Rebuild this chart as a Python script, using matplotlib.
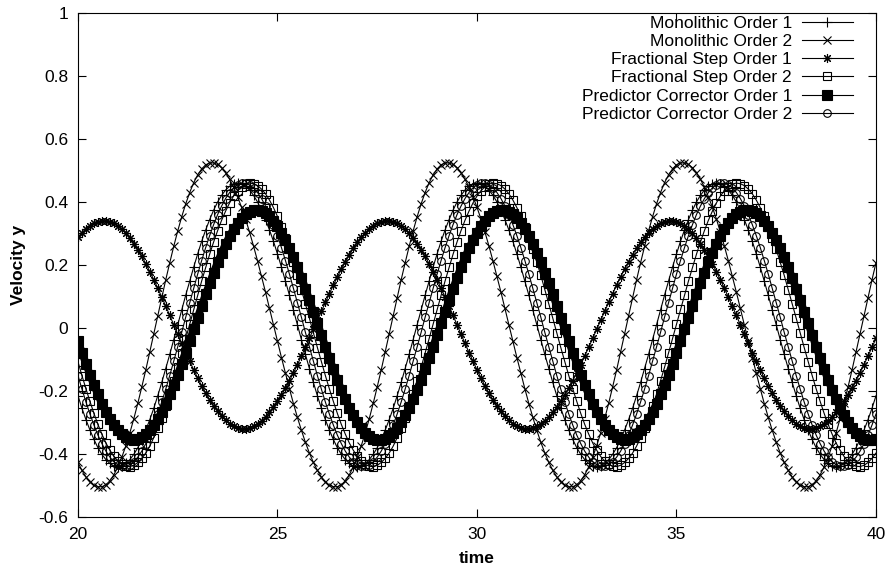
#!/usr/bin/env python3
"""Velocity y against time for six time-integration schemes (gnuplot-style linespoints)."""

import matplotlib

matplotlib.use("Agg")
import matplotlib.pyplot as plt
import numpy as np

plt.rcParams["font.family"] = ["Liberation Sans", "DejaVu Sans"]
plt.rcParams["axes.unicode_minus"] = False

T_START, T_END = 20.0, 40.0  # samples are every 0.1 time units
FONT_SIZE = 12.5

# values, t = 20.0, 20.1, ..., 40.0
monolithic_1 = [
    -0.215, -0.255, -0.291, -0.324, -0.354, -0.380, -0.401, -0.418, -0.430, -0.438,
    -0.440, -0.438, -0.430, -0.418, -0.401, -0.380, -0.354, -0.324, -0.291, -0.255,
    -0.215, -0.173, -0.129, -0.084, -0.037, 0.010, 0.057, 0.104, 0.149, 0.193,
    0.235, 0.275, 0.311, 0.344, 0.374, 0.400, 0.421, 0.438, 0.450, 0.458,
    0.460, 0.458, 0.450, 0.438, 0.421, 0.400, 0.374, 0.344, 0.311, 0.275,
    0.235, 0.193, 0.149, 0.104, 0.057, 0.010, -0.037, -0.084, -0.129, -0.173,
    -0.215, -0.255, -0.291, -0.324, -0.354, -0.380, -0.401, -0.418, -0.430, -0.438,
    -0.440, -0.438, -0.430, -0.418, -0.401, -0.380, -0.354, -0.324, -0.291, -0.255,
    -0.215, -0.173, -0.129, -0.084, -0.037, 0.010, 0.057, 0.104, 0.149, 0.193,
    0.235, 0.275, 0.311, 0.344, 0.374, 0.400, 0.421, 0.438, 0.450, 0.458,
    0.460, 0.458, 0.450, 0.438, 0.421, 0.400, 0.374, 0.344, 0.311, 0.275,
    0.235, 0.193, 0.149, 0.104, 0.057, 0.010, -0.037, -0.084, -0.129, -0.173,
    -0.215, -0.255, -0.291, -0.324, -0.354, -0.380, -0.401, -0.418, -0.430, -0.438,
    -0.440, -0.438, -0.430, -0.418, -0.401, -0.380, -0.354, -0.324, -0.291, -0.255,
    -0.215, -0.173, -0.129, -0.084, -0.037, 0.010, 0.057, 0.104, 0.149, 0.193,
    0.235, 0.275, 0.311, 0.344, 0.374, 0.400, 0.421, 0.438, 0.450, 0.458,
    0.460, 0.458, 0.450, 0.438, 0.421, 0.400, 0.374, 0.344, 0.311, 0.275,
    0.235, 0.193, 0.149, 0.104, 0.057, 0.010, -0.037, -0.084, -0.129, -0.173,
    -0.215, -0.255, -0.291, -0.324, -0.354, -0.380, -0.401, -0.418, -0.430, -0.438,
    -0.440, -0.438, -0.430, -0.418, -0.401, -0.380, -0.354, -0.324, -0.291, -0.255,
    -0.215,
]

monolithic_2 = [
    -0.427, -0.452, -0.473, -0.489, -0.499, -0.504,
    -0.504, -0.498, -0.485, -0.466, -0.441, -0.410, -0.374, -0.333, -0.288, -0.239,
    -0.187, -0.133, -0.076, -0.019, 0.039, 0.096, 0.153, 0.207, 0.259, 0.308,
    0.353, 0.394, 0.430, 0.461, 0.486, 0.505, 0.518, 0.524,
    0.524, 0.519, 0.509, 0.493, 0.472, 0.447, 0.417, 0.383, 0.346, 0.304,
    0.260, 0.213, 0.164, 0.114, 0.062, 0.010, -0.042, -0.094, -0.144, -0.193,
    -0.240, -0.284, -0.325, -0.363, -0.397, -0.427, -0.452, -0.473, -0.489, -0.499,
    -0.504,
    -0.504, -0.498, -0.485, -0.466, -0.441, -0.410, -0.374, -0.333, -0.288, -0.239,
    -0.187, -0.133, -0.076, -0.019, 0.039, 0.096, 0.153, 0.207, 0.259, 0.308,
    0.353, 0.394, 0.430, 0.461, 0.486, 0.505, 0.518, 0.524,
    0.524, 0.519, 0.509, 0.493, 0.472, 0.447, 0.417, 0.383, 0.346, 0.304,
    0.260, 0.213, 0.164, 0.114, 0.062, 0.010, -0.042, -0.094, -0.144, -0.193,
    -0.240, -0.284, -0.325, -0.363, -0.397, -0.427, -0.452, -0.473, -0.489, -0.499,
    -0.504,
    -0.504, -0.498, -0.485, -0.466, -0.441, -0.410, -0.374, -0.333, -0.288, -0.239,
    -0.187, -0.133, -0.076, -0.019, 0.039, 0.096, 0.153, 0.207, 0.259, 0.308,
    0.353, 0.394, 0.430, 0.461, 0.486, 0.505, 0.518, 0.524,
    0.524, 0.519, 0.509, 0.493, 0.472, 0.447, 0.417, 0.383, 0.346, 0.304,
    0.260, 0.213, 0.164, 0.114, 0.062, 0.010, -0.042, -0.094, -0.144, -0.193,
    -0.240, -0.284, -0.325, -0.363, -0.397, -0.427, -0.452, -0.473, -0.489, -0.499,
    -0.504,
    -0.504, -0.498, -0.485, -0.466, -0.441, -0.410, -0.374, -0.333, -0.288, -0.239,
    -0.187, -0.133, -0.076, -0.019, 0.039, 0.096, 0.153, 0.207,
]

fractional_1 = [
    0.288, 0.303, 0.315, 0.325, 0.332, 0.337, 0.340,
    0.340, 0.337, 0.332, 0.324, 0.313, 0.301, 0.285, 0.268, 0.248, 0.227,
    0.204, 0.179, 0.153, 0.126, 0.098, 0.069, 0.040, 0.010, -0.020, -0.049,
    -0.078, -0.106, -0.133, -0.159, -0.184, -0.207, -0.228, -0.248, -0.265, -0.281,
    -0.293, -0.304, -0.312, -0.317, -0.320,
    -0.320, -0.317, -0.312, -0.305, -0.295, -0.283, -0.268, -0.252, -0.233, -0.213,
    -0.191, -0.167, -0.142, -0.116, -0.089, -0.061, -0.033, -0.004, 0.024, 0.053,
    0.081, 0.109, 0.136, 0.162, 0.187, 0.211, 0.233, 0.253, 0.272, 0.288,
    0.303, 0.315, 0.325, 0.332, 0.337, 0.340,
    0.340, 0.337, 0.332, 0.324, 0.313, 0.301, 0.285, 0.268, 0.248, 0.227,
    0.204, 0.179, 0.153, 0.126, 0.098, 0.069, 0.040, 0.010, -0.020, -0.049,
    -0.078, -0.106, -0.133, -0.159, -0.184, -0.207, -0.228, -0.248, -0.265, -0.281,
    -0.293, -0.304, -0.312, -0.317, -0.320,
    -0.320, -0.317, -0.312, -0.305, -0.295, -0.283, -0.268, -0.252, -0.233, -0.213,
    -0.191, -0.167, -0.142, -0.116, -0.089, -0.061, -0.033, -0.004, 0.024, 0.053,
    0.081, 0.109, 0.136, 0.162, 0.187, 0.211, 0.233, 0.253, 0.272, 0.288,
    0.303, 0.315, 0.325, 0.332, 0.337, 0.340,
    0.340, 0.337, 0.332, 0.324, 0.313, 0.301, 0.285, 0.268, 0.248, 0.227,
    0.204, 0.179, 0.153, 0.126, 0.098, 0.069, 0.040, 0.010, -0.020, -0.049,
    -0.078, -0.106, -0.133, -0.159, -0.184, -0.207, -0.228, -0.248, -0.265, -0.281,
    -0.293, -0.304, -0.312, -0.317, -0.320,
    -0.320, -0.317, -0.312, -0.305, -0.295, -0.283, -0.268, -0.252, -0.233, -0.213,
    -0.191, -0.167, -0.142, -0.116, -0.089, -0.061, -0.033,
]

fractional_2 = [
    -0.107, -0.151, -0.193, -0.233, -0.271, -0.306, -0.337, -0.365, -0.388, -0.408,
    -0.423, -0.433, -0.439, -0.440, -0.436, -0.427, -0.414, -0.397, -0.375, -0.348,
    -0.319, -0.285, -0.249, -0.210, -0.168, -0.125, -0.080, -0.034, 0.012, 0.059,
    0.104, 0.149, 0.192, 0.234, 0.273, 0.309, 0.342, 0.371, 0.397, 0.419,
    0.436, 0.448, 0.457, 0.460, 0.458, 0.452, 0.441, 0.426, 0.406, 0.382,
    0.354, 0.322, 0.287, 0.250, 0.209, 0.167, 0.122, 0.077, 0.031, -0.016,
    -0.062,
    -0.107, -0.151, -0.193, -0.233, -0.271, -0.306, -0.337, -0.365, -0.388, -0.408,
    -0.423, -0.433, -0.439, -0.440, -0.436, -0.427, -0.414, -0.397, -0.375, -0.348,
    -0.319, -0.285, -0.249, -0.210, -0.168, -0.125, -0.080, -0.034, 0.012, 0.059,
    0.104, 0.149, 0.192, 0.234, 0.273, 0.309, 0.342, 0.371, 0.397, 0.419,
    0.436, 0.448, 0.457, 0.460, 0.458, 0.452, 0.441, 0.426, 0.406, 0.382,
    0.354, 0.322, 0.287, 0.250, 0.209, 0.167, 0.122, 0.077, 0.031, -0.016,
    -0.062,
    -0.107, -0.151, -0.193, -0.233, -0.271, -0.306, -0.337, -0.365, -0.388, -0.408,
    -0.423, -0.433, -0.439, -0.440, -0.436, -0.427, -0.414, -0.397, -0.375, -0.348,
    -0.319, -0.285, -0.249, -0.210, -0.168, -0.125, -0.080, -0.034, 0.012, 0.059,
    0.104, 0.149, 0.192, 0.234, 0.273, 0.309, 0.342, 0.371, 0.397, 0.419,
    0.436, 0.448, 0.457, 0.460, 0.458, 0.452, 0.441, 0.426, 0.406, 0.382,
    0.354, 0.322, 0.287, 0.250, 0.209, 0.167, 0.122, 0.077, 0.031, -0.016,
    -0.062,
    -0.107, -0.151, -0.193, -0.233, -0.271, -0.306, -0.337, -0.365, -0.388, -0.408,
    -0.423, -0.433, -0.439, -0.440, -0.436, -0.427, -0.414, -0.397,
]

predictor_1 = [
    -0.041, -0.078, -0.113, -0.148, -0.181, -0.211, -0.240, -0.266, -0.289, -0.308,
    -0.325, -0.338, -0.347, -0.353, -0.355, -0.353, -0.347, -0.338, -0.325, -0.308,
    -0.289, -0.266, -0.240, -0.211, -0.181, -0.148, -0.113, -0.078, -0.041, -0.004,
    0.033, 0.070, 0.107, 0.142, 0.176, 0.208, 0.239, 0.266, 0.292, 0.314,
    0.333, 0.349, 0.361, 0.369, 0.374, 0.375, 0.372, 0.365, 0.355, 0.341,
    0.324, 0.303, 0.279, 0.253, 0.224, 0.193, 0.159, 0.125, 0.089, 0.052,
    0.015, -0.023, -0.059, -0.096, -0.131, -0.164, -0.196, -0.226, -0.253, -0.277,
    -0.299, -0.317, -0.332, -0.343, -0.351, -0.355, -0.355, -0.351, -0.343, -0.332,
    -0.317, -0.299, -0.277, -0.253, -0.226, -0.196, -0.164, -0.131, -0.096, -0.059,
    -0.023, 0.015, 0.052, 0.089, 0.125, 0.159, 0.193, 0.224, 0.253, 0.279,
    0.303, 0.324, 0.341, 0.355, 0.365, 0.372, 0.375, 0.374, 0.369, 0.361,
    0.349, 0.333, 0.314, 0.292, 0.266, 0.239, 0.208, 0.176, 0.142, 0.107,
    0.070, 0.033, -0.004,
    -0.041, -0.078, -0.113, -0.148, -0.181, -0.211, -0.240, -0.266, -0.289, -0.308,
    -0.325, -0.338, -0.347, -0.353, -0.355, -0.353, -0.347, -0.338, -0.325, -0.308,
    -0.289, -0.266, -0.240, -0.211, -0.181, -0.148, -0.113, -0.078, -0.041, -0.004,
    0.033, 0.070, 0.107, 0.142, 0.176, 0.208, 0.239, 0.266, 0.292, 0.314,
    0.333, 0.349, 0.361, 0.369, 0.374, 0.375, 0.372, 0.365, 0.355, 0.341,
    0.324, 0.303, 0.279, 0.253, 0.224, 0.193, 0.159, 0.125, 0.089, 0.052,
    0.015, -0.023, -0.059, -0.096, -0.131, -0.164, -0.196, -0.226, -0.253, -0.277,
    -0.299, -0.317, -0.332, -0.343, -0.351, -0.355, -0.355, -0.351,
]

predictor_2 = [
    -0.151, -0.194, -0.235, -0.273, -0.308, -0.340, -0.367, -0.391, -0.410, -0.425,
    -0.434, -0.439,
    -0.439, -0.434, -0.425, -0.410, -0.391, -0.367, -0.340, -0.308, -0.273, -0.235,
    -0.194, -0.151, -0.106, -0.060, -0.014, 0.034, 0.080, 0.126, 0.171, 0.214,
    0.255, 0.293, 0.328, 0.360, 0.387, 0.411, 0.430, 0.445, 0.454, 0.459,
    0.459, 0.454, 0.445, 0.430, 0.411, 0.387, 0.360, 0.328, 0.293, 0.255,
    0.214, 0.171, 0.126, 0.080, 0.034, -0.014, -0.060, -0.106, -0.151, -0.194,
    -0.235, -0.273, -0.308, -0.340, -0.367, -0.391, -0.410, -0.425, -0.434, -0.439,
    -0.439, -0.434, -0.425, -0.410, -0.391, -0.367, -0.340, -0.308, -0.273, -0.235,
    -0.194, -0.151, -0.106, -0.060, -0.014, 0.034, 0.080, 0.126, 0.171, 0.214,
    0.255, 0.293, 0.328, 0.360, 0.387, 0.411, 0.430, 0.445, 0.454, 0.459,
    0.459, 0.454, 0.445, 0.430, 0.411, 0.387, 0.360, 0.328, 0.293, 0.255,
    0.214, 0.171, 0.126, 0.080, 0.034, -0.014, -0.060, -0.106, -0.151, -0.194,
    -0.235, -0.273, -0.308, -0.340, -0.367, -0.391, -0.410, -0.425, -0.434, -0.439,
    -0.439, -0.434, -0.425, -0.410, -0.391, -0.367, -0.340, -0.308, -0.273, -0.235,
    -0.194, -0.151, -0.106, -0.060, -0.014, 0.034, 0.080, 0.126, 0.171, 0.214,
    0.255, 0.293, 0.328, 0.360, 0.387, 0.411, 0.430, 0.445, 0.454, 0.459,
    0.459, 0.454, 0.445, 0.430, 0.411, 0.387, 0.360, 0.328, 0.293, 0.255,
    0.214, 0.171, 0.126, 0.080, 0.034, -0.014, -0.060, -0.106, -0.151, -0.194,
    -0.235, -0.273, -0.308, -0.340, -0.367, -0.391, -0.410, -0.425, -0.434, -0.439,
    -0.439, -0.434, -0.425, -0.410, -0.391, -0.367, -0.340, -0.308, -0.273,
]

labels = [
    "Monolithic Order 1",
    "Monolithic Order 2",
    "Fractional Step Order 1",
    "Fractional Step Order 2",
    "Predictor Corrector Order 1",
    "Predictor Corrector Order 2",
]

x_ticks = [20, 25, 30, 35, 40]
y_ticks = [-0.6, -0.4, -0.2, 0, 0.2, 0.4, 0.6, 0.8, 1]
y_tick_labels = ["-0.6", "-0.4", "-0.2", "0", "0.2", "0.4", "0.6", "0.8", "1"]

# gnuplot point types 1..6 (asterisk = + and x on top of each other)
STYLES = [
    dict(marker="+", markersize=6.5, mfc="none"),
    dict(marker="x", markersize=5.5, mfc="none"),
    dict(marker=(8, 2, 0), markersize=6.5, mfc="none"),
    dict(marker="s", markersize=5.5, mfc="none"),
    dict(marker="s", markersize=7, mfc="black"),
    dict(marker="o", markersize=5.5, mfc="none"),
]


def main() -> None:
    series = [monolithic_1, monolithic_2, fractional_1, fractional_2, predictor_1, predictor_2]

    fig = plt.figure(figsize=(8.87, 5.72), dpi=100)
    ax = fig.add_axes([0.0879, 0.0962, 0.8997, 0.8811])

    for values, label, style in zip(series, labels, STYLES):
        t = np.linspace(T_START, T_END, len(values))
        if style["mfc"] == "black":
            # the overlapping filled squares read as one solid band in the original
            ax.plot(t, values, color="black", linewidth=5.5, solid_capstyle="butt")
        ax.plot(t, values, color="black", linewidth=0.8, mec="black", mew=0.8, label=label, **style)

    ax.set_xlim(T_START, T_END)
    ax.set_ylim(-0.6, 1.0)
    ax.set_xticks(x_ticks)
    ax.set_xticklabels([str(v) for v in x_ticks])
    ax.set_yticks(y_ticks)
    ax.set_yticklabels(y_tick_labels)
    ax.tick_params(direction="in", top=True, right=True, length=5.5, width=0.8, labelsize=FONT_SIZE, pad=7)
    for spine in ax.spines.values():
        spine.set_linewidth(0.8)

    ax.set_xlabel("time", fontsize=FONT_SIZE, fontweight="bold")
    ax.set_ylabel("Velocity y", fontsize=FONT_SIZE, fontweight="bold")
    ax.xaxis.set_label_coords(0.5, -0.068)
    ax.yaxis.set_label_coords(-0.065, 0.5)

    ax.legend(
        loc="upper right",
        bbox_to_anchor=(0.971, 0.994),
        frameon=False,
        markerfirst=False,
        numpoints=1,
        fontsize=FONT_SIZE,
        handlelength=2.95,
        handletextpad=0.55,
        labelspacing=0.17,
        borderpad=0.0,
        borderaxespad=0.0,
    )

    fig.savefig("out.png", dpi=100)
    plt.close(fig)


if __name__ == "__main__":
    main()
